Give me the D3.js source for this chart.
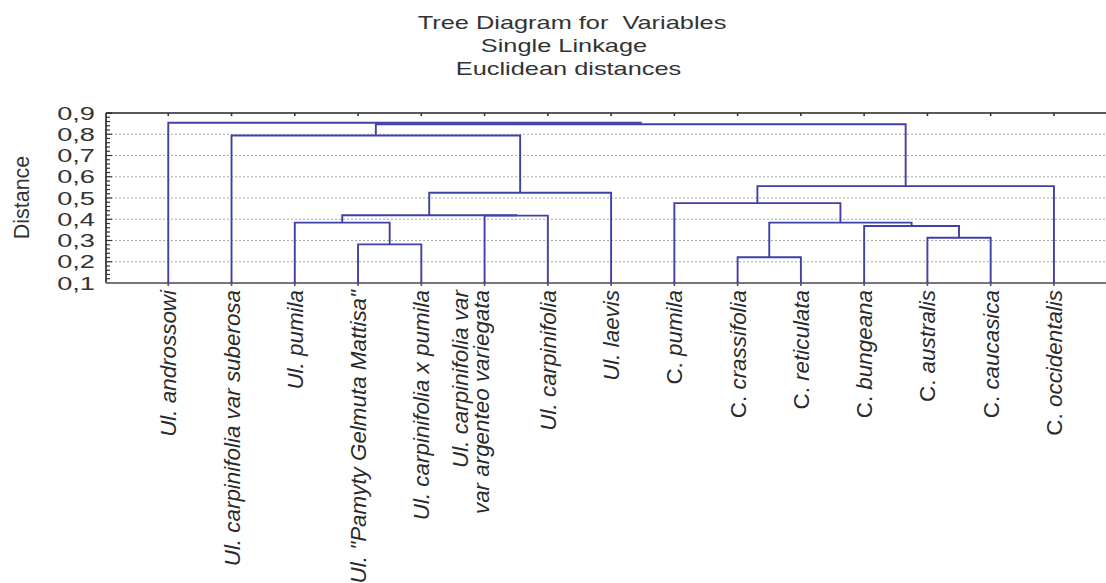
<!DOCTYPE html>
<html>
<head>
<meta charset="utf-8">
<script src="https://cdn.jsdelivr.net/npm/d3@7/dist/d3.min.js"></script>
<style>
  html, body { margin: 0; padding: 0; background: #fff; }
  svg { display: block; }
  text { font-family: "Liberation Sans", Arial, sans-serif; fill: #222; }
</style>
</head>
<body>
<svg id="chart" width="1106" height="583"></svg>
<script>
// ---- data ----
const titleLines = ["Tree Diagram for  Variables", "Single Linkage", "Euclidean distances"];
const yAxisTitle = "Distance";
const leafLabels = [
  "Ul. androssowi",
  "Ul. carpinifolia var suberosa",
  "Ul. pumila",
  "Ul. \"Pamyty Gelmuta Mattisa\"",
  "Ul. carpinifolia x pumila",
  "Ul. carpinifolia var|var argenteo variegata",
  "Ul. carpinifolia",
  "Ul. laevis",
  "C. pumila",
  "C. crassifolia",
  "C. reticulata",
  "C. bungeana",
  "C. australis",
  "C. caucasica",
  "C. occidentalis"
];
// linkage: merge k creates node id = leafLabels.length + k
const mergeA = [9, 3, 12, 11, 2, 15, 5, 19, 8, 22, 23, 1, 26, 0];
const mergeB = [10, 4, 13, 17, 16, 18, 6, 21, 20, 7, 14, 24, 25, 27];
const mergeH = [0.221, 0.282, 0.313, 0.368, 0.384, 0.384, 0.417, 0.419, 0.476, 0.525, 0.556, 0.794, 0.847, 0.854];
const yTicks = [0.1, 0.2, 0.3, 0.4, 0.5, 0.6, 0.7, 0.8, 0.9];
const yTickLabels = ["0,1", "0,2", "0,3", "0,4", "0,5", "0,6", "0,7", "0,8", "0,9"];

(function () {
// ---- layout ----
const svg = d3.select("#chart");
const pL = 106, pT = 113, pB = 283, pR = 1117.2;
const n = leafLabels.length;
const x = d3.scalePoint().domain(d3.range(n)).range([105, pR]).padding(1);
const y = d3.scaleLinear().domain([0.1, 0.9]).range([pB, pT]);

// title
const titleCenters = [572, 564, 568.5];
const titleBase = [28.5, 51.5, 75];
titleLines.forEach((t, i) => {
  svg.append("text")
    .attr("transform", `translate(${titleCenters[i]},${titleBase[i]}) scale(1.45,1)`)
    .attr("text-anchor", "middle")
    .attr("xml:space", "preserve")
    .style("white-space", "pre")
    .style("font-size", "17.5px")
    .style("fill", "#333")
    .text(t);
});

// gridlines
svg.append("g").selectAll("line")
  .data(yTicks.filter(v => v > 0.1 && v < 0.9))
  .join("line")
  .attr("x1", pL + 1).attr("x2", 1106)
  .attr("y1", d => y(d)).attr("y2", d => y(d))
  .attr("stroke", "#a8a8a8").attr("stroke-width", 1)
  .attr("stroke-dasharray", "2,2");

// left axis minor/major ticks (inside)
const minor = d3.range(0.1, 0.9001, 0.02);
svg.append("g").selectAll("line")
  .data(minor)
  .join("line")
  .attr("x1", pL).attr("x2", (d) => pL + (Math.abs(Math.round(d * 10) - d * 10) < 1e-6 ? 6 : 4))
  .attr("y1", d => y(d)).attr("y2", d => y(d))
  .attr("stroke", "#333").attr("stroke-width", 1.2);

// y tick labels
svg.append("g").selectAll("text")
  .data(yTicks)
  .join("text")
  .attr("transform", d => `translate(95,${y(d)}) scale(1.47,1)`)
  .attr("text-anchor", "end")
  .attr("dy", "0.36em")
  .style("font-size", "18.5px")
  .style("fill", "#333")
  .text((d, i) => yTickLabels[i]);

// y axis title
svg.append("text")
  .attr("transform", `translate(21,197.5) rotate(-90)`)
  .attr("text-anchor", "middle")
  .attr("dy", "0.36em")
  .style("font-size", "21.5px")
  .style("fill", "#333")
  .text(yAxisTitle);

// frame
svg.append("line").attr("x1", pL).attr("x2", 1106).attr("y1", pT).attr("y2", pT)
  .attr("stroke", "#222").attr("stroke-width", 1.6);
svg.append("line").attr("x1", pL).attr("x2", pL).attr("y1", pT).attr("y2", pB)
  .attr("stroke", "#222").attr("stroke-width", 1.6);
svg.append("line").attr("x1", pL).attr("x2", 1106).attr("y1", pB).attr("y2", pB)
  .attr("stroke", "#777").attr("stroke-width", 2.2);

// top & bottom ticks at leaves
svg.append("g").selectAll("line")
  .data(d3.range(n))
  .join("line")
  .attr("x1", d => x(d)).attr("x2", d => x(d))
  .attr("y1", pT).attr("y2", pT + 3)
  .attr("stroke", "#333").attr("stroke-width", 1.6);
svg.append("g").selectAll("line")
  .data(d3.range(n))
  .join("line")
  .attr("x1", d => x(d)).attr("x2", d => x(d))
  .attr("y1", pB - 2).attr("y2", pB + 3)
  .attr("stroke", "#555").attr("stroke-width", 1.6);

// dendrogram
const nodeX = d3.range(n).map(i => x(i));
const nodeH = d3.range(n).map(() => 0.1);
const gLinks = svg.append("g");
mergeA.forEach((a, k) => {
  const b = mergeB[k], h = mergeH[k];
  const xa = nodeX[a], xb = nodeX[b];
  const p = d3.path();
  p.moveTo(xa, y(nodeH[a]));
  p.lineTo(xa, y(h));
  p.lineTo(xb, y(h));
  p.lineTo(xb, y(nodeH[b]));
  gLinks.append("path")
    .attr("d", p.toString())
    .attr("fill", "none")
    .attr("stroke", "#4040a8")
    .attr("stroke-width", 1.9);
  nodeX.push((xa + xb) / 2);
  nodeH.push(h);
});

// leaf labels
const gLab = svg.append("g");
leafLabels.forEach((lab, i) => {
  const lines = lab.split("|");
  const offs = lines.length === 1 ? [0] : [-25, -4];
  lines.forEach((ln, j) => {
    const t = gLab.append("text")
      .attr("transform", `translate(${x(i) + offs[j]},290) rotate(-90)`)
      .attr("text-anchor", "end")
      .attr("dy", "0.36em")
      .style("font-size", "22.4px")
      .style("fill", "#2a2a2a");
    const m = ln.match(/^(C\. )(.*)$/);
    if (m) {
      t.append("tspan").text(m[1]);
      t.append("tspan").style("font-style", "italic").text(m[2]);
    } else {
      t.style("font-style", "italic").text(ln);
    }
  });
});
})();
</script>
</body>
</html>
